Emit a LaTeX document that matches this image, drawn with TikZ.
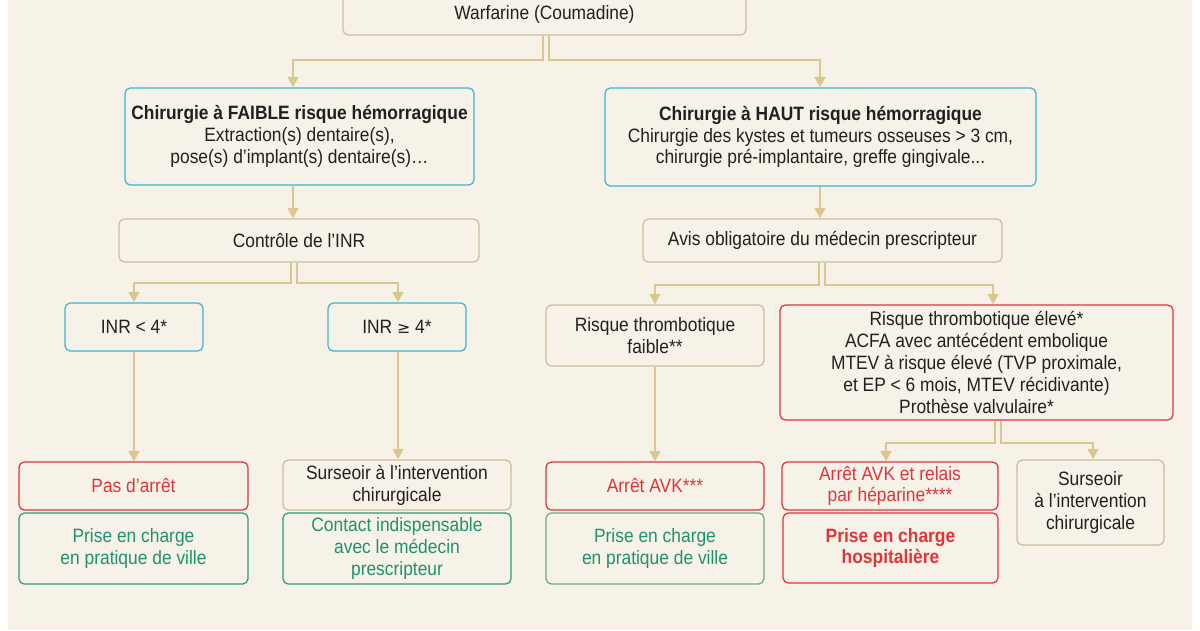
\documentclass[tikz,border=0pt]{standalone}
\usepackage{fontspec}
\setmainfont[FakeStretch=0.9]{Liberation Sans}
\usetikzlibrary{arrows.meta}
\definecolor{bg}{HTML}{F6F2E8}
\definecolor{tan}{HTML}{DCC690}
\definecolor{tanb}{HTML}{CDBB9E}
\definecolor{cyanb}{HTML}{3CB6D2}
\definecolor{redb}{HTML}{E0343A}
\definecolor{grn}{HTML}{1E9170}
\definecolor{grnb}{HTML}{2E9A78}
\definecolor{txt}{HTML}{231F20}
\tikzset{
  wh/.style 2 args={minimum width=#1*0.02cm, minimum height=#2*0.02cm},
  box/.style={draw, rounded corners=3pt, line width=0.7pt, align=center, fill=bg, inner sep=1pt, font=\fontsize{11}{12.4}\selectfont, text=txt},
  tanbox/.style={box, draw=tanb},
  cybox/.style={box, draw=cyanb},
  rbox/.style={box, draw=redb},
  gbox/.style={box, draw=grnb, text=grn},
  lnk/.style={draw=tan, line width=1.6pt},
  arr/.style={lnk, -{Triangle[width=6pt,length=6pt]}},
}
\begin{document}
\begin{tikzpicture}[x=0.02cm,y=-0.02cm]
\useasboundingbox (0,0) rectangle (1200,630);
\clip (0,0) rectangle (1200,630);
\fill[white] (0,0) rectangle (1200,630);
\fill[bg] (8,0) rectangle (1192,630);

\node[tanbox, wh={403}{48}] (W) at (544.5,11) {\\Warfarine (Coumadine)};
\node[cybox, wh={349}{97}] (F) at (299.5,136.5) {\textbf{Chirurgie à FAIBLE risque hémorragique}\\Extraction(s) dentaire(s),\\pose(s) d’implant(s) dentaire(s)…};
\node[cybox, wh={431}{98}] (H) at (820.5,137) {\textbf{Chirurgie à HAUT risque hémorragique}\\Chirurgie des kystes et tumeurs osseuses > 3 cm,\\chirurgie pré-implantaire, greffe gingivale...};
\node[tanbox, wh={360}{43}] (C) at (299,240.5) {Contrôle de l’INR};
\node[tanbox, wh={359}{43}] (A) at (822.5,240.5) {Avis obligatoire du médecin prescripteur};
\node[cybox, wh={138}{48}] (I1) at (134,327) {INR < 4*};
\node[cybox, wh={138}{48}] (I2) at (397,327) {INR {\fontspec{DejaVu Sans}\small ≥} 4*};
\node[tanbox, wh={218}{61}] (RF) at (655,335.5) {Risque thrombotique\\faible**};
\node[rbox, wh={393}{115}] (RE) at (976.5,362.5) {Risque thrombotique élevé*\\ACFA avec antécédent embolique\\MTEV à risque élevé (TVP proximale,\\et EP < 6 mois, MTEV récidivante)\\Prothèse valvulaire*};
\node[rbox, text=redb, wh={229}{48}] (P1) at (133.5,486) {Pas d’arrêt};
\node[tanbox, wh={228}{50}] (S1) at (397,485) {Surseoir à l’intervention\\chirurgicale};
\node[rbox, text=redb, wh={218}{48}] (AR) at (655,486) {Arrêt AVK***};
\node[rbox, text=redb, wh={216}{48}] (AH) at (890,486) {Arrêt AVK et relais\\par héparine****};
\node[tanbox, wh={147}{85}] (S2) at (1090.5,502.5) {Surseoir\\à l’intervention\\chirurgicale};
\node[gbox, wh={229}{71}] (G1) at (133.5,548.5) {Prise en charge\\en pratique de ville};
\node[gbox, wh={228}{71}] (G2) at (397,548.5) {Contact indispensable\\avec le médecin\\prescripteur};
\node[gbox, draw=grnb!60!tanb, wh={218}{71}] (G3) at (655,548.5) {Prise en charge\\en pratique de ville};
\node[rbox, text=redb, wh={215}{70}] (HO) at (890.5,548) {\textbf{Prise en charge}\\\textbf{hospitalière}};

% connectors
\draw[arr] (W.south -| 543,0) |- (293,60) -- (F.north -| 293,0);
\draw[arr] (W.south -| 549,0) |- (820,60) -- (H.north -| 820,0);
\draw[arr] (F.south -| 293,0) -- (C.north -| 293,0);
\draw[arr] (H.south -| 820,0) -- (A.north -| 820,0);
\draw[arr] (C.south -| 291,0) |- (134,283) -- (I1.north);
\draw[arr] (C.south -| 297,0) |- (398,283) -- (I2.north -| 398,0);
\draw[arr] (A.south -| 819,0) |- (655,285) -- (RF.north);
\draw[arr] (A.south -| 825,0) |- (993,285) -- (RE.north -| 993,0);
\draw[arr] (I1.south) -- (P1.north -| I1.south);
\draw[arr] (I2.south -| 398,0) -- (S1.north -| 398,0);
\draw[arr] (RF.south) -- (AR.north);
\draw[arr] (RE.south -| 995,0) |- (886,443) -- (AH.north -| 886,0);
\draw[arr] (RE.south -| 1001,0) |- (1093,443) -- (S2.north -| 1093,0);
\end{tikzpicture}
\end{document}
